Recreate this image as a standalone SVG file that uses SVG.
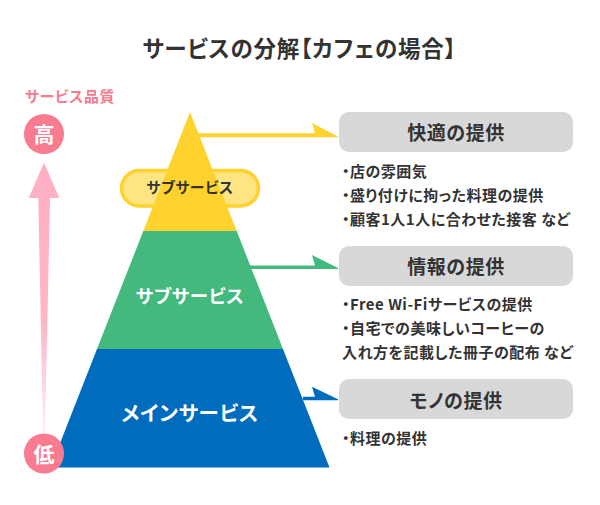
<svg xmlns="http://www.w3.org/2000/svg" width="600" height="505" viewBox="0 0 600 505">
<style>
text{font-family:"Noto Sans CJK JP","Noto Sans",sans-serif;font-weight:700;fill:#333;font-feature-settings:"palt"}
.h{font-size:19px;letter-spacing:.6px;text-anchor:middle}
.b{font-size:15px;letter-spacing:.5px}
.w{fill:#fff;text-anchor:middle}
.box{fill:#d8d8d8}
</style>
<defs><linearGradient id="g" x1="0" y1="0" x2="0" y2="1"><stop offset="0" stop-color="#ffafc3"/><stop offset=".6" stop-color="#ffb6c8"/><stop offset="1" stop-color="#fff0f3"/></linearGradient></defs>
<rect width="600" height="505" fill="#fff"/>
<text id="title" x="299.500" y="56.500" text-anchor="middle" style="font-size:22.500px;letter-spacing:.8px">サービスの分解【カフェの場合】</text>
<g id="connectors">
<path d="M198 133.300H315L312 123L338 136.500L338 137.300H198Z" fill="#ffd22e"/>
<path d="M250 265.500H315L312 255L338 268L338 269H250Z" fill="#43b97e"/>
<path d="M303 396.700H315L312 386.700L338 399.300L338 400.300H303Z" fill="#006cbd"/>
<path d="M44 162.700L59.300 198H50L45 433H43L38.300 198H28.700Z" fill="url(#g)"/>
</g>
<g id="pill"><rect x="121.500" y="170.500" width="137" height="35.500" rx="17.700" fill="#ffe482" stroke="#ffd22e" stroke-width="3.500"/></g>
<g id="sub-top"><path d="M190 112L236.700 231H143.300Z" fill="#ffd22e"/><text x="190" y="193" text-anchor="middle" style="font-size:14.800px;letter-spacing:.6px">サブサービス</text></g>
<g id="sub-mid"><path d="M143.300 231H236.700L283 349H97Z" fill="#43b97e"/><text class="w" x="190" y="303" style="font-size:18.500px;letter-spacing:.7px;fill:#fff">サブサービス</text></g>
<g id="main"><path d="M97 349H283L329.500 467.500H50.500Z" fill="#006cbd"/><text class="w" x="190" y="420.500" style="font-size:20.500px;letter-spacing:.7px;fill:#fff">メインサービス</text></g>
<g id="axis-label"><text x="70" y="102" text-anchor="middle" style="font-size:15px;letter-spacing:.6px;fill:#f87b90">サービス品質</text></g>
<g id="high"><circle cx="44" cy="134" r="20" fill="#f87b90"/><text class="w" x="44" y="142" style="font-size:21px;fill:#fff">高</text></g>
<g id="low"><circle cx="44" cy="453.500" r="20" fill="#f87b90"/><text class="w" x="44" y="461.500" style="font-size:21px;fill:#fff">低</text></g>
<g id="comfort"><rect class="box" x="339" y="112" width="234" height="40" rx="10"/><text class="h" x="456" y="140">快適の提供</text>
<text class="b" x="342" y="177">・店の雰囲気</text><text class="b" x="342" y="201">・盛り付けに拘った料理の提供</text><text class="b" x="342" y="225">・顧客1人1人に合わせた接客 など</text></g>
<g id="info"><rect class="box" x="339" y="246" width="234" height="40" rx="10"/><text class="h" x="456" y="274">情報の提供</text>
<text class="b" x="342" y="310">・Free Wi-Fiサービスの提供</text><text class="b" x="342" y="334">・自宅での美味しいコーヒーの</text><text class="b" x="342" y="358">入れ方を記載した冊子の配布 など</text></g>
<g id="goods"><rect class="box" x="339" y="379" width="234" height="40" rx="10"/><text class="h" x="456" y="408">モノの提供</text>
<text class="b" x="342" y="444">・料理の提供</text></g>
</svg>
